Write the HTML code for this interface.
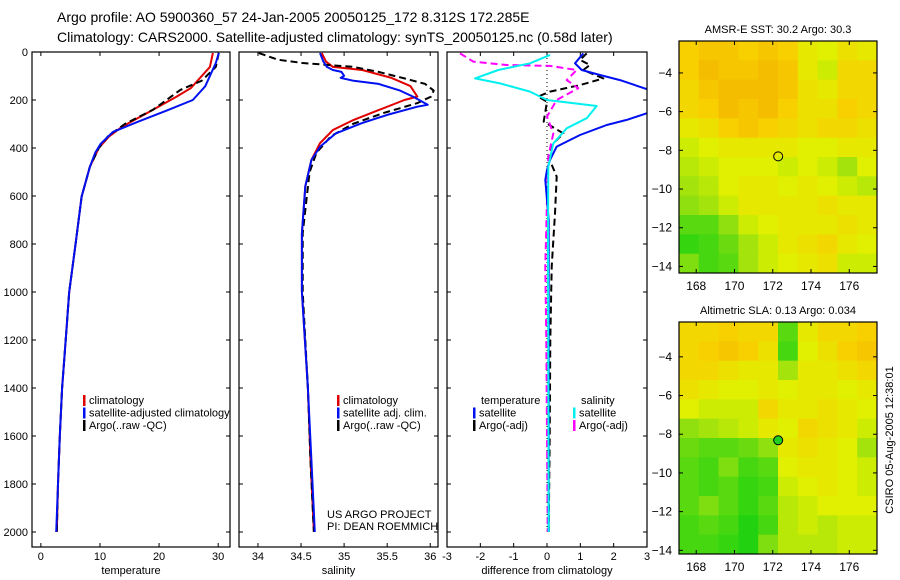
<!DOCTYPE html>
<html><head><meta charset="utf-8">
<style>
html,body{margin:0;padding:0;background:#fff;}
svg{display:block;font-family:"Liberation Sans",sans-serif;}
</style></head>
<body>
<svg id="fig" width="900" height="580" viewBox="0 0 900 580" xmlns="http://www.w3.org/2000/svg">
<text x="57" y="22" font-size="14">Argo profile: AO 5900360_57 24-Jan-2005 20050125_172 8.312S 172.285E</text>
<text x="57" y="42" font-size="14">Climatology: CARS2000. Satellite-adjusted climatology: synTS_20050125.nc (0.58d later)</text>
<g id="plots"></g>
</svg>
<script>
// ---- data ----
const depthTicks=[0,200,400,600,800,1000,1200,1400,1600,1800,2000];
const tempTicks=[0,10,20,30];
const salTicks=[34,34.5,35,35.5,36];
const diffTicks=[-3,-2,-1,0,1,2,3];
const tempClimD=[4,62,150,187,255,312,353,400,478,603,796,1000,1200,1400,1600,1800,2000];
const tempClimV=[29.1,28.6,25.4,22.9,17.9,13.7,11.5,9.8,8.3,6.9,5.9,4.8,4.2,3.6,3.2,2.9,2.7];
const tempSatD=[4,46,143,200,243,290,333,383,420,478,603,796,1000,1200,1400,1600,1800,2000];
const tempSatV=[30.1,29.6,27.8,25.7,21.4,16.5,12.2,10.1,9.2,8.3,6.9,5.9,4.8,4.2,3.6,3.2,2.9,2.6];
const tempArgoD=[4,62,120,158,240,300,350,400,478,603,796,1000,1200,1400,1600,1800,2000];
const tempArgoV=[30.1,29.6,27.2,23.6,19.0,14.2,11.4,9.8,8.3,6.9,5.9,4.8,4.2,3.6,3.2,2.9,2.7];
const salClimD=[4,40,62,75,108,142,186,200,242,283,325,380,450,560,755,1000,1400,1700,2000];
const salClimV=[34.74,34.79,34.87,35.21,35.55,35.77,35.85,35.7,35.4,35.11,34.87,34.72,34.62,34.55,34.51,34.51,34.58,34.61,34.65];
const salSatD=[4,40,62,75,83,99,108,120,133,161,186,220,228,262,297,340,395,450,560,755,1000,1400,1700,2000];
const salSatV=[34.72,34.76,34.8,34.87,34.97,35.0,34.96,35.11,35.4,35.65,35.8,35.97,35.85,35.5,35.2,34.9,34.72,34.62,34.55,34.51,34.51,34.58,34.62,34.66];
const salArgoD=[4,32,46,54,62,83,110,133,161,186,213,255,300,350,420,500,755,1000,1400,1700,2000];
const salArgoV=[34.01,34.23,34.52,34.82,35.11,35.4,35.7,35.94,36.04,36.01,35.85,35.45,35.1,34.85,34.68,34.6,34.52,34.52,34.58,34.61,34.65];
const dTsatD=[6,47,75,96,117,155,200,255,283,304,346,394,450,492,533,700,1000,2000];
const dTsatV=[1.09,0.84,1.04,1.59,2.19,3.0,3.6,3.0,2.39,1.79,0.99,0.29,0.09,0.0,-0.05,0.05,0.05,0.05];
const dTargoD=[6,33,54,75,110,138,165,186,207,290,339,381,436,519,672,894,1200,1600,2000];
const dTargoV=[1.19,0.99,1.29,1.09,1.69,0.99,0.09,-0.27,0,-0.1,0.49,0.19,0.04,0.29,0.24,0.14,0.1,0.08,0.05];
const dSsatD=[12,47,75,110,131,165,200,225,276,318,381,478,800,2000];
const dSsatV=[0.09,-0.51,-1.46,-2.16,-1.41,-0.51,0,1.49,1.19,0.59,0.19,0.04,0.03,0.05];
const dSargoD=[6,40,54,58,75,117,151,200,269,339,436,617,894,1200,1600,2000];
const dSargoV=[-2.61,-2.21,-1.21,0.09,0.89,0.59,0.94,0.29,0,0.19,0.04,0,-0.05,-0.02,0,0.02];
const lonTicks=[168,170,172,174,176];
const latTicks=[-4,-6,-8,-10,-12,-14];
const sstGrid=[
[.75,.8,.8,.75,.8,.75,.6,.55,.65,.6],
[.75,.85,.8,.8,.85,.8,.6,.5,.7,.7],
[.7,.8,.85,.85,.85,.8,.65,.6,.7,.7],
[.7,.75,.85,.8,.85,.75,.65,.65,.75,.7],
[.6,.65,.75,.8,.75,.7,.65,.7,.7,.65],
[.5,.55,.6,.6,.6,.6,.55,.55,.6,.6],
[.45,.5,.55,.55,.55,.5,.55,.5,.4,.55],
[.4,.45,.55,.6,.6,.55,.6,.55,.5,.45],
[.35,.4,.5,.6,.6,.6,.6,.65,.6,.6],
[.2,.2,.35,.5,.55,.6,.6,.6,.65,.6],
[.1,.15,.25,.4,.5,.6,.65,.7,.6,.55],
[.3,.15,.2,.4,.5,.55,.6,.65,.5,.5]];
const slaGrid=[
[.7,.7,.75,.7,.7,.2,.6,.7,.7,.75],
[.7,.75,.8,.75,.65,.15,.55,.65,.75,.8],
[.7,.7,.65,.6,.6,.4,.6,.6,.65,.7],
[.65,.6,.55,.55,.6,.55,.6,.6,.55,.6],
[.55,.5,.5,.5,.7,.6,.6,.65,.6,.55],
[.35,.4,.45,.5,.6,.55,.7,.65,.6,.5],
[.25,.2,.2,.25,.35,.6,.65,.6,.55,.4],
[.2,.15,.3,.15,.2,.55,.6,.6,.55,.5],
[.2,.15,.2,.1,.15,.5,.55,.6,.55,.5],
[.2,.3,.2,.1,.2,.45,.5,.55,.55,.55],
[.15,.2,.15,.05,.15,.45,.5,.45,.5,.5],
[.15,.15,.1,.05,.3,.45,.45,.45,.5,.5]];

const NS="http://www.w3.org/2000/svg";
const root=document.getElementById('plots');
function mk(tag,attrs,parent){const e=document.createElementNS(NS,tag);for(const k in attrs)e.setAttribute(k,attrs[k]);(parent||root).appendChild(e);return e;}
const yD=d=>52+d*0.24;
function txt(x,y,s,anchor,size,parent){const t=mk('text',{x:x,y:y,'font-size':size||11,'text-anchor':anchor||'start'},parent);t.textContent=s;return t;}

function panel(name,x0,x1,vmin,vmax,ticks,label,showY){
  const xs=v=>x0+(v-vmin)/(vmax-vmin)*(x1-x0);
  const g=mk('g',{});
  
  
  ticks.forEach(t=>{const x=xs(t);
    mk('line',{x1:x,y1:52,x2:x,y2:56,stroke:'#000'},g);
    mk('line',{x1:x,y1:547,x2:x,y2:543,stroke:'#000'},g);
    const l=txt(x,560,String(t),'middle',11,g);
    
    });
  depthTicks.forEach(d=>{const y=yD(d);
    mk('line',{x1:x0,y1:y,x2:x0+4,y2:y,stroke:'#000'},g);
    mk('line',{x1:x1,y1:y,x2:x1-4,y2:y,stroke:'#000'},g);
    if(showY){const l=txt(28,y+4,String(d),'end',11,g);
      
      }});
  const t=txt((x0+x1)/2,574,label,'middle',11,g);
  
  
  return {g,xs,x0,x1};
}
function series(p,D,V,color,w,dash,nm){
  const clip='c'+p.x0;
  if(!document.getElementById(clip)){const cp=mk('clipPath',{id:clip});mk('rect',{x:p.x0,y:52,width:p.x1-p.x0,height:495},cp);}
  const pts=D.map((d,i)=>p.xs(V[i]).toFixed(1)+','+yD(d).toFixed(1)).join(' ');
  const a={points:pts,fill:'none',stroke:color,'stroke-width':w,'clip-path':'url(#'+clip+')','stroke-linejoin':'round'};
  if(dash)a['stroke-dasharray']=dash;
  const l=mk('polyline',a,p.g);
  
  
}
function frame(p){const r=mk('rect',{x:p.x0,y:52,width:p.x1-p.x0,height:495,fill:'none',stroke:'#000','stroke-width':1.2},p.g);
  
  }
function legend(g,x,y,items){items.forEach((it,i)=>{const yy=y+i*12.5;
  mk('rect',{x:x,y:yy-9,width:2.5,height:11,fill:it[1]},g);
  const t=txt(x+6,yy,it[0],'start',11,g);
  
  });}

// temperature
const pT=panel('temperature',32,230,-1.5,32.0,tempTicks,'temperature',true);
series(pT,tempClimD,tempClimV,'#e00000',2,null,'temp-climatology-line');
series(pT,tempArgoD,tempArgoV,'#000',2,'7,4','temp-argo-line');
series(pT,tempSatD,tempSatV,'#0010f0',2,null,'temp-satellite-line');
frame(pT);
legend(pT.g,83,404,[['climatology','#e00000'],['satellite-adjusted climatology','#0010f0'],['Argo(..raw -QC)','#000']]);
// salinity
const pS=panel('salinity',239,438,33.78,36.09,salTicks,'salinity',false);
series(pS,salClimD,salClimV,'#e00000',2,null,'sal-climatology-line');
series(pS,salArgoD,salArgoV,'#000',2,'7,4','sal-argo-line');
series(pS,salSatD,salSatV,'#0010f0',2,null,'sal-satellite-line');
frame(pS);
legend(pS.g,337,404,[['climatology','#e00000'],['satellite adj. clim.','#0010f0'],['Argo(..raw -QC)','#000']]);
let t1=txt(327,518,'US ARGO PROJECT','start',11,pS.g);


let t2=txt(327,530,'PI: DEAN ROEMMICH','start',11,pS.g);


// difference
const pD=panel('difference',447,647,-3,3,diffTicks,'difference from climatology',false);
const z=mk('line',{x1:547,y1:54,x2:547,y2:534,stroke:'#000','stroke-dasharray':'1,3'},pD.g);


series(pD,dTargoD,dTargoV,'#000',2,'7,4','diff-temp-argo-line');
series(pD,dSargoD,dSargoV,'#ff00ff',2,'7,4','diff-sal-argo-line');
series(pD,dTsatD,dTsatV,'#0010f0',2,null,'diff-temp-satellite-line');
series(pD,dSsatD,dSsatV,'#00f0f0',2,null,'diff-sal-satellite-line');
frame(pD);
let lt=txt(481,404,'temperature','start',11,pD.g);


let ls=txt(581,404,'salinity','start',11,pD.g);


legend(pD.g,473,416.5,[['satellite','#0010f0'],['Argo(-adj)','#000']]);
legend(pD.g,573,416.5,[['satellite','#00f0f0'],['Argo(-adj)','#ff00ff']]);

// maps
const stops=[[0,[16,208,16]],[0.35,[144,224,16]],[0.55,[224,240,0]],[0.75,[248,208,0]],[1,[240,160,0]]];
function cmap(v){for(let i=1;i<stops.length;i++){if(v<=stops[i][0]){const a=stops[i-1],b=stops[i],f=(v-a[0])/(b[0]-a[0]);
  return 'rgb('+a[1].map((c,k)=>Math.round(c+(b[1][k]-c)*f)).join(',')+')';}}return 'rgb(240,160,0)';}
function map(name,y0,latTop,grid,title,dotFill){
  const x0=679,x1=877,h=232;
  const lonMin=167.1,lonMax=177.45;
  const pxDeg=(x1-x0)/(lonMax-lonMin);
  const xs=lon=>x0+(lon-lonMin)*pxDeg;
  const ys=lat=>y0+(latTop-lat)*19.35;
  const g=mk('g',{});
  
  
  const rows=grid.length,cols=grid[0].length,cw=(x1-x0)/cols,ch=h/rows;
  grid.forEach((row,r)=>row.forEach((v,c)=>{
    const cell=mk('rect',{x:x0+c*cw,y:y0+r*ch,width:cw+0.5,height:ch+0.5,fill:cmap(v)},g);
    
    }));
  mk('rect',{x:x0,y:y0,width:x1-x0,height:h,fill:'none',stroke:'#000','stroke-width':1.2},g);
  lonTicks.forEach(l=>{const x=xs(l);
    mk('line',{x1:x,y1:y0,x2:x,y2:y0+4,stroke:'#000'},g);
    mk('line',{x1:x,y1:y0+h,x2:x,y2:y0+h-4,stroke:'#000'},g);
    const t=txt(x,y0+h+17,String(l),'middle',12,g);
    
    });
  latTicks.forEach(l=>{const y=ys(l);
    mk('line',{x1:x0,y1:y,x2:x0+4,y2:y,stroke:'#000'},g);
    mk('line',{x1:x1,y1:y,x2:x1-4,y2:y,stroke:'#000'},g);
    const t=txt(672,y+4,String(l).replace('-','\u2212'),'end',12,g);
    
    });
  const tt=txt(778,y0-8,title,'middle',11,g);
  
  
  const m=mk('circle',{cx:xs(172.285),cy:ys(-8.312),r:4.5,fill:dotFill,stroke:'#000','stroke-width':1},g);
  
  
}
map('sst',41,-2.35,sstGrid,'AMSR-E SST: 30.2 Argo: 30.3','none');
map('sla',322,-2.2,slaGrid,'Altimetric SLA: 0.13 Argo: 0.034','#20d020');
const cs=mk('text',{x:0,y:0,'font-size':11,'text-anchor':'middle',transform:'translate(893,440) rotate(-90)'});
cs.textContent='CSIRO 05-Aug-2005 12:38:01';


</script>
</body></html>
